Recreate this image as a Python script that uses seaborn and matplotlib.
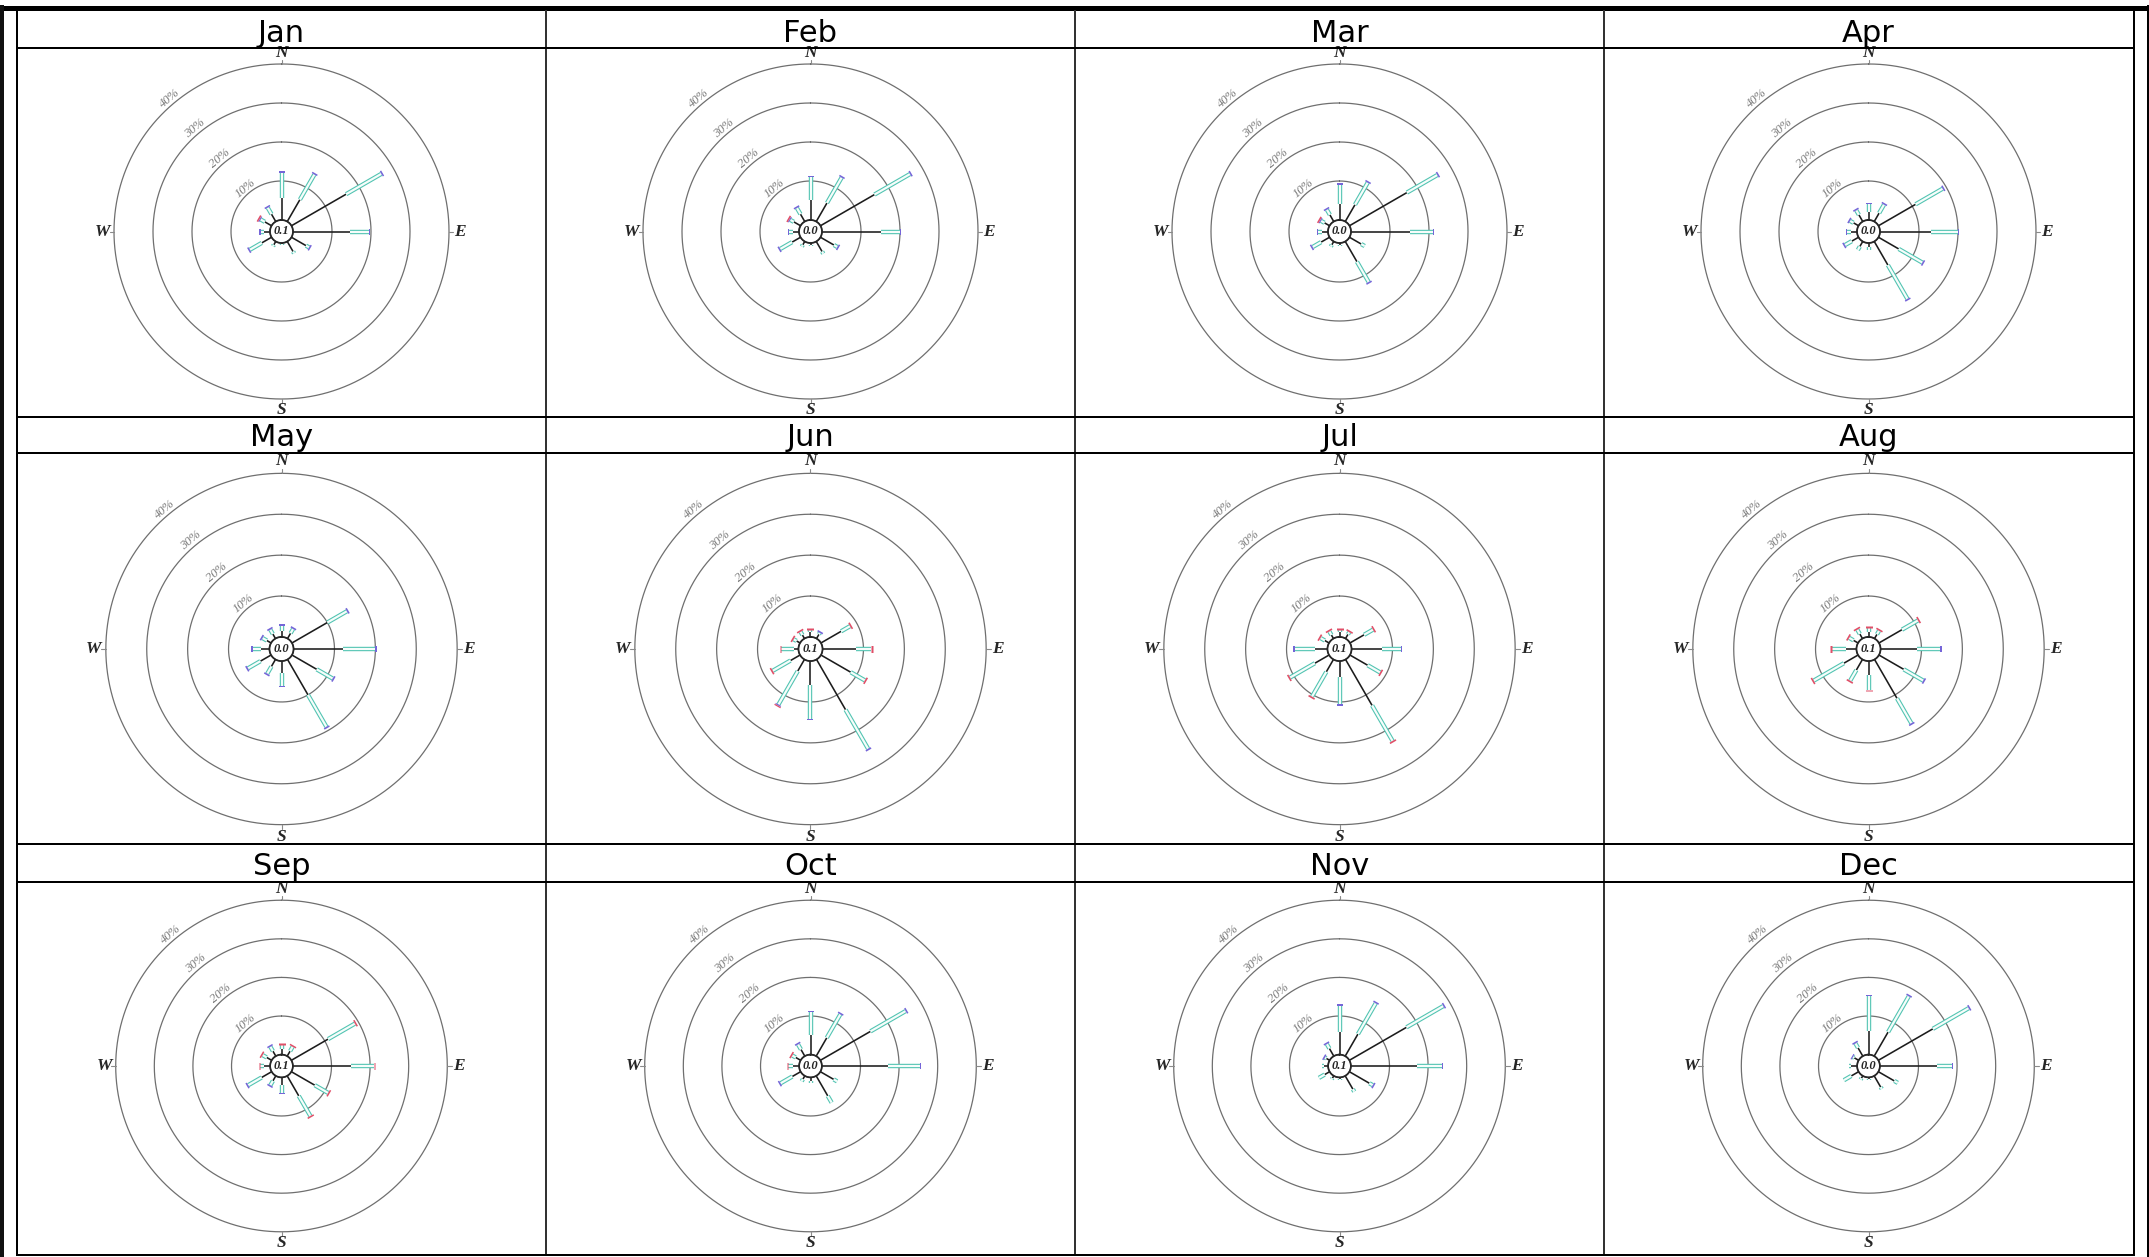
import numpy as np
import matplotlib
matplotlib.use("Agg")
import matplotlib.pyplot as plt
import matplotlib.patheffects as pe
from matplotlib.lines import Line2D
import seaborn as sns

sns.set_theme(style="white")
plt.rcParams['font.family'] = ['DejaVu Sans']

# ---------------- data ----------------
months = ["Jan", "Feb", "Mar", "Apr", "May", "Jun",
          "Jul", "Aug", "Sep", "Oct", "Nov", "Dec"]
directions = [0, 30, 60, 90, 120, 150, 180, 210, 240, 270, 300, 330]
calm = ["0.1", "0.0", "0.0", "0.0", "0.0", "0.1",
        "0.1", "0.1", "0.1", "0.0", "0.1", "0.0"]
rings = [10, 20, 30, 40]
ring_labels = ["10%", "20%", "30%", "40%"]
compass = ["N", "E", "S", "W"]
compass_dir = [0, 90, 180, 270]

# frequency (%) of the lowest speed class (black stem)
seg_black = [
    [5.7, 6.5, 16.2, 14.5, 4.3, 3.0, 0.3, 1.0, 2.9, 1.5, 2.0, 2.2],   # Jan
    [5.0, 5.5, 16.0, 15.0, 4.0, 3.0, 0.5, 1.0, 2.5, 1.5, 2.0, 2.2],   # Feb
    [4.0, 5.0, 17.0, 15.0, 3.5, 6.0, 0.5, 1.0, 2.5, 1.5, 1.5, 2.0],   # Mar
    [2.0, 2.5, 11.0, 13.0, 6.0, 7.0, 1.0, 1.5, 2.0, 1.5, 1.5, 2.0],   # Apr
    [1.5, 1.5, 10.0, 12.0, 7.0, 10.0, 3.0, 2.0, 3.0, 2.0, 1.2, 1.3],  # May
    [1.2, 1.2, 5.7, 8.2, 8.4, 14.2, 5.9, 3.3, 2.7, 1.2, 1.0, 1.0],    # Jun
    [1.2, 1.2, 4.0, 7.5, 5.0, 13.0, 4.0, 3.5, 4.0, 3.0, 1.2, 1.0],    # Jul
    [1.3, 1.2, 6.5, 9.0, 7.0, 11.0, 3.5, 3.0, 4.0, 2.5, 1.3, 1.3],    # Aug
    [1.5, 1.5, 11.0, 15.0, 7.0, 6.0, 2.0, 1.5, 3.0, 1.5, 1.5, 1.5],   # Sep
    [5.0, 5.5, 15.0, 17.0, 4.0, 6.0, 1.0, 1.0, 2.5, 1.5, 1.5, 2.0],   # Oct
    [5.8, 6.6, 17.1, 17.0, 6.0, 4.0, 0.4, 0.7, 1.5, 1.0, 1.0, 2.3],   # Nov
    [6.0, 7.2, 16.3, 14.9, 4.8, 3.4, 0.4, 0.7, 2.2, 1.5, 1.3, 2.5],   # Dec
]
# second speed class (cyan box)
seg_cyan = [
    [6.4, 7.4, 10.4, 5.0, 0.9, 0.5, 0.3, 0.4, 3.5, 0.8, 1.2, 1.9],    # Jan
    [6.0, 7.5, 10.5, 5.0, 1.0, 0.6, 0.3, 0.5, 3.5, 1.0, 1.0, 1.8],    # Feb
    [5.0, 6.5, 9.0, 6.0, 1.0, 6.0, 0.3, 0.5, 2.5, 1.0, 1.0, 1.5],     # Mar
    [2.0, 2.5, 8.0, 7.0, 7.0, 10.0, 0.8, 1.0, 2.0, 1.0, 1.0, 1.3],    # Apr
    [1.2, 1.2, 5.5, 8.0, 4.5, 9.0, 3.0, 2.0, 3.5, 2.0, 1.2, 1.2],     # May
    [0.5, 0.4, 2.5, 3.7, 4.0, 11.0, 8.2, 9.4, 5.0, 3.0, 0.8, 0.9],    # Jun
    [0.6, 0.6, 2.5, 4.5, 3.5, 10.0, 6.5, 7.0, 7.0, 5.0, 1.2, 1.0],    # Jul
    [1.0, 1.0, 4.5, 5.5, 5.5, 7.0, 3.5, 3.0, 8.5, 3.5, 1.2, 1.2],     # Aug
    [1.0, 1.3, 8.0, 6.0, 4.0, 6.0, 2.0, 1.3, 4.0, 1.0, 1.2, 1.3],     # Sep
    [6.0, 7.0, 10.5, 8.5, 1.0, 2.0, 0.5, 0.6, 3.5, 1.3, 1.0, 1.5],    # Oct
    [6.9, 9.2, 11.0, 6.5, 1.0, 0.7, 0.2, 0.3, 1.7, 0.7, 0.4, 1.3],    # Nov
    [9.1, 10.7, 10.7, 3.8, 1.0, 0.5, 0.2, 0.4, 2.2, 0.7, 0.4, 1.3],   # Dec
]
# third speed class (purple tip)
seg_purple = [
    [0.4, 0.4, 0.4, 0.3, 0.4, 0.0, 0.0, 0.0, 0.4, 0.4, 0.3, 0.4],  # Jan
    [0.4, 0.4, 0.4, 0.3, 0.4, 0.0, 0.0, 0.0, 0.4, 0.4, 0.3, 0.4],  # Feb
    [0.4, 0.4, 0.4, 0.3, 0.0, 0.4, 0.0, 0.0, 0.4, 0.4, 0.3, 0.4],  # Mar
    [0.4, 0.4, 0.4, 0.3, 0.4, 0.4, 0.0, 0.0, 0.4, 0.4, 0.4, 0.4],  # Apr
    [0.4, 0.4, 0.4, 0.3, 0.4, 0.4, 0.4, 0.4, 0.4, 0.4, 0.4, 0.4],  # May
    [0.0, 0.4, 0.0, 0.0, 0.0, 0.4, 0.4, 0.3, 0.0, 0.0, 0.0, 0.0],  # Jun
    [0.0, 0.0, 0.0, 0.4, 0.0, 0.0, 0.4, 0.0, 0.0, 0.4, 0.0, 0.0],  # Jul
    [0.0, 0.0, 0.0, 0.4, 0.4, 0.4, 0.0, 0.0, 0.0, 0.0, 0.0, 0.0],  # Aug
    [0.0, 0.0, 0.0, 0.0, 0.0, 0.0, 0.4, 0.4, 0.4, 0.0, 0.0, 0.4],  # Sep
    [0.4, 0.4, 0.4, 0.3, 0.0, 0.0, 0.0, 0.0, 0.4, 0.0, 0.0, 0.4],  # Oct
    [0.4, 0.4, 0.4, 0.3, 0.4, 0.0, 0.0, 0.0, 0.0, 0.0, 0.4, 0.4],  # Nov
    [0.4, 0.4, 0.4, 0.3, 0.0, 0.0, 0.0, 0.0, 0.0, 0.0, 0.3, 0.4],  # Dec
]
# highest speed class (red tip)
seg_red = [
    [0.0, 0.0, 0.0, 0.0, 0.0, 0.0, 0.0, 0.0, 0.0, 0.0, 0.4, 0.0],  # Jan
    [0.0, 0.0, 0.0, 0.0, 0.0, 0.0, 0.0, 0.0, 0.0, 0.0, 0.4, 0.0],  # Feb
    [0.0, 0.0, 0.0, 0.0, 0.0, 0.0, 0.0, 0.0, 0.0, 0.0, 0.4, 0.0],  # Mar
    [0.0, 0.0, 0.0, 0.0, 0.0, 0.0, 0.0, 0.0, 0.0, 0.0, 0.0, 0.0],  # Apr
    [0.0, 0.0, 0.0, 0.0, 0.0, 0.0, 0.0, 0.0, 0.0, 0.0, 0.0, 0.0],  # May
    [0.4, 0.0, 0.4, 0.4, 0.4, 0.0, 0.0, 0.3, 0.4, 0.4, 0.4, 0.4],  # Jun
    [0.4, 0.4, 0.4, 0.0, 0.4, 0.4, 0.0, 0.4, 0.4, 0.0, 0.4, 0.4],  # Jul
    [0.4, 0.4, 0.4, 0.0, 0.0, 0.0, 0.4, 0.4, 0.4, 0.4, 0.4, 0.4],  # Aug
    [0.4, 0.4, 0.4, 0.4, 0.4, 0.4, 0.0, 0.0, 0.0, 0.4, 0.4, 0.0],  # Sep
    [0.0, 0.0, 0.0, 0.0, 0.0, 0.0, 0.0, 0.0, 0.0, 0.4, 0.4, 0.0],  # Oct
    [0.0, 0.0, 0.0, 0.0, 0.0, 0.0, 0.0, 0.0, 0.0, 0.0, 0.0, 0.0],  # Nov
    [0.0, 0.0, 0.0, 0.0, 0.0, 0.0, 0.0, 0.0, 0.0, 0.0, 0.0, 0.0],  # Dec
]

# ---------------- layout ----------------
W, H, DPI = 2149, 1257, 100
fig = plt.figure(figsize=(W / DPI, H / DPI), dpi=DPI)
fig.patch.set_facecolor("white")


def pt(px):
    return px * 72.0 / DPI


col_cx = [281.5, 810.5, 1339.5, 1868.5]
col_edges = [16.5, 545.5, 1074.5, 1603.5, 2133.5]
row_cy = [231.5, 649.0, 1066.0]
row_k = [3.9, 4.09, 3.86]          # px per percent
title_base = [42, 446, 875]
row_lines = [48, 417, 453, 844, 882, 1255]
RMAX = 40.0
ORIGIN = -2.95

BLACK = "#1c1c1c"
TEAL = "#52c4b2"
TEAL_FILL = "#f6fdfb"
PURPLE = "#7565d8"
RED = "#e04f68"
RING = "#6f6f6f"
serif = ["Liberation Serif", "DejaVu Serif"]

th = np.linspace(0, 2 * np.pi, 721)

for i, m in enumerate(months):
    r_i, c_i = divmod(i, 4)
    k = row_k[r_i]
    r0 = -ORIGIN * k
    R = r0 + RMAX * k
    cx, cy = col_cx[c_i], row_cy[r_i]
    ax = fig.add_axes([(cx - R) / W, 1 - (cy + R) / H, 2 * R / W, 2 * R / H],
                      projection="polar")
    ax.set_theta_zero_location("N")
    ax.set_theta_direction(-1)
    ax.set_ylim(0, RMAX)
    ax.set_rorigin(ORIGIN)
    ax.grid(False)
    ax.spines["polar"].set_visible(False)
    ax.set_xticks([])
    ax.set_yticks([])
    ax.patch.set_alpha(0)

    # rings
    for rv, rl in zip(rings, ring_labels):
        ax.plot(th, np.full_like(th, rv), color=RING, lw=0.9, clip_on=False)
        ax.text(np.deg2rad(320), rv + 1.6, rl, rotation=40, ha="center", va="center",
                fontsize=9, fontstyle="italic", color="#7a7a7a", family=serif,
                clip_on=False)
    # hole circle
    ax.plot(th, np.zeros_like(th), color="#444444", lw=0.9, clip_on=False)

    # compass
    for lab, ang in zip(compass, compass_dir):
        t = np.deg2rad(ang)
        ax.plot([t, t], [RMAX, RMAX + 1.1], color="#8a8a8a", lw=0.8, clip_on=False)
        ax.text(t, RMAX + 2.9, lab, ha="center", va="center", fontsize=12.5,
                fontweight="bold", fontstyle="italic", family=serif, clip_on=False)

    # paddles
    for d, ang in enumerate(directions):
        t = np.deg2rad(ang)
        b = seg_black[i][d]
        c = seg_cyan[i][d]
        p = seg_purple[i][d]
        rd = seg_red[i][d]
        ax.plot([t, t], [0, b], color=BLACK, lw=pt(1.6), solid_capstyle="butt",
                clip_on=False)
        if c > 0:
            ax.plot([t, t], [b, b + c], color=TEAL_FILL, lw=pt(2.2),
                    solid_capstyle="butt", clip_on=False,
                    path_effects=[pe.Stroke(linewidth=pt(4.4), foreground=TEAL),
                                  pe.Normal()])
        top = b + c
        if p > 0:
            ax.plot([t, t], [top, top + p], color=PURPLE, lw=pt(6.0),
                    solid_capstyle="butt", clip_on=False)
            top += p
        if rd > 0:
            ax.plot([t, t], [top, top + rd], color=RED, lw=pt(7.0),
                    solid_capstyle="butt", clip_on=False)

    ax.text(0.5, 0.5, calm[i], transform=ax.transAxes, ha="center", va="center",
            fontsize=9, fontweight="bold", fontstyle="italic", family=serif)

    # month title
    fig.text(cx / W, 1 - title_base[r_i] / H, m, ha="center", va="baseline",
             fontsize=22, color="black")


# ---------------- table frame ----------------
def hline(y, x0, x1, lw_px, color="black"):
    fig.add_artist(Line2D([x0 / W, x1 / W], [1 - y / H, 1 - y / H],
                          transform=fig.transFigure, lw=pt(lw_px), color=color,
                          solid_capstyle="butt"))


def vline(x, y0, y1, lw_px, color="black"):
    fig.add_artist(Line2D([x / W, x / W], [1 - y0 / H, 1 - y1 / H],
                          transform=fig.transFigure, lw=pt(lw_px), color=color,
                          solid_capstyle="butt"))


hline(7.5, 0, 2147, 5)
vline(2, 5, 1257, 4, "#111111")
vline(2148, 5, 1257, 2)
for xe in col_edges:
    vline(xe, 10, 1256, 2, "#333333" if xe not in (16.5, 2133.5) else "black")
for yl in row_lines:
    hline(yl, 16, 2134.5, 2)

fig.savefig("out.png", dpi=DPI, facecolor="white")
